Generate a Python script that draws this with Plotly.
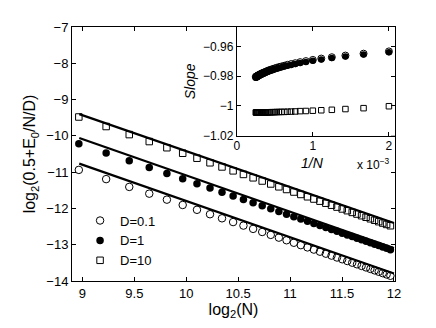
import numpy as np
import plotly.graph_objects as go

# system sizes
N = [500, 600, 700, 800, 900, 1000, 1100, 1200, 1300, 1400, 1500, 1600,
     1700, 1800, 1900, 2000, 2100, 2200, 2300, 2400, 2500, 2600, 2700, 2800,
     2900, 3000, 3100, 3200, 3300, 3400, 3500, 3600, 3700, 3800, 3900, 4000]

# log2(0.5 + E0/N/D)
y_d01 = [-10.938, -11.192, -11.407, -11.593, -11.758, -11.905, -12.038, -12.160,
         -12.272, -12.376, -12.473, -12.564, -12.649, -12.729, -12.805, -12.877,
         -12.946, -13.012, -13.074, -13.134, -13.192, -13.247, -13.300, -13.352,
         -13.401, -13.449, -13.495, -13.540, -13.584, -13.626, -13.667, -13.707,
         -13.745, -13.783, -13.820, -13.856]
y_d1 = [-10.218, -10.472, -10.687, -10.873, -11.038, -11.185, -11.318, -11.440,
        -11.552, -11.656, -11.753, -11.844, -11.929, -12.009, -12.085, -12.157,
        -12.226, -12.292, -12.354, -12.414, -12.472, -12.527, -12.580, -12.632,
        -12.681, -12.729, -12.775, -12.820, -12.864, -12.906, -12.947, -12.987,
        -13.025, -13.063, -13.100, -13.136]
y_d10 = [-9.480, -9.743, -9.965, -10.157, -10.327, -10.479, -10.616, -10.742,
         -10.857, -10.964, -11.063, -11.156, -11.244, -11.326, -11.404, -11.478,
         -11.548, -11.615, -11.679, -11.741, -11.800, -11.856, -11.911, -11.963,
         -12.014, -12.062, -12.110, -12.155, -12.200, -12.243, -12.285, -12.325,
         -12.365, -12.403, -12.441, -12.477]

# reference lines (slope about -1)
fit_x = [8.97, 12.0]
fit_d01 = [-10.765, -13.795]
fit_d1 = [-10.06, -13.09]
fit_d10 = [-9.40, -12.40]

# local slopes for the inset
slope_d1 = [-0.9640, -0.9655, -0.9668, -0.9679, -0.9688, -0.9697, -0.9705, -0.9712,
            -0.9719, -0.9725, -0.9730, -0.9736, -0.9741, -0.9745, -0.9750, -0.9754,
            -0.9758, -0.9762, -0.9765, -0.9769, -0.9772, -0.9776, -0.9779, -0.9782,
            -0.9785, -0.9787, -0.9790, -0.9793, -0.9795, -0.9798, -0.9800, -0.9802,
            -0.9805, -0.9807, -0.9809, -0.9811]
slope_d01 = [-0.9634, -0.9649, -0.9662, -0.9673, -0.9682, -0.9691, -0.9699, -0.9706,
             -0.9713, -0.9719, -0.9724, -0.9730, -0.9735, -0.9739, -0.9744, -0.9748,
             -0.9752, -0.9756, -0.9759, -0.9763, -0.9766, -0.9770, -0.9773, -0.9776,
             -0.9779, -0.9781, -0.9784, -0.9787, -0.9789, -0.9792, -0.9794, -0.9796,
             -0.9799, -0.9801, -0.9803, -0.9805]
slope_d10 = [-1.0002, -1.0015, -1.0021, -1.0026, -1.0029, -1.0032, -1.0034, -1.0035,
             -1.0037, -1.0038, -1.0039, -1.0040, -1.0040, -1.0041, -1.0041, -1.0042,
             -1.0042, -1.0042, -1.0043, -1.0043, -1.0043, -1.0043, -1.0044, -1.0044,
             -1.0044, -1.0044, -1.0044, -1.0044, -1.0044, -1.0044, -1.0044, -1.0044,
             -1.0044, -1.0044, -1.0044, -1.0044]

logN = np.log2(N)
invN = 1.0 / np.array(N)

FONT = "Liberation Sans, Arial, Helvetica, sans-serif"
fig = go.Figure()

# fitted lines
for fy in (fit_d01, fit_d1, fit_d10):
    fig.add_trace(go.Scatter(x=fit_x, y=fy, mode='lines', showlegend=False,
                             line=dict(color='black', width=2.2)))

# main data
fig.add_trace(go.Scatter(x=logN, y=y_d01, mode='markers', name='D=0.1',
                         marker=dict(symbol='circle-open', size=7.5, color='black', line=dict(width=1))))
fig.add_trace(go.Scatter(x=logN, y=y_d1, mode='markers', name='D=1',
                         marker=dict(symbol='circle', size=7.5, color='black')))
fig.add_trace(go.Scatter(x=logN, y=y_d10, mode='markers', name='D=10',
                         marker=dict(symbol='square-open', size=6.5, color='black', line=dict(width=1))))

# inset
fig.add_trace(go.Scatter(x=invN, y=slope_d1, mode='markers', showlegend=False, xaxis='x2', yaxis='y2',
                         marker=dict(symbol='circle', size=6.5, color='black')))
fig.add_trace(go.Scatter(x=invN, y=slope_d01, mode='markers', showlegend=False, xaxis='x2', yaxis='y2',
                         marker=dict(symbol='circle-open', size=7, color='black', line=dict(width=1))))
fig.add_trace(go.Scatter(x=invN, y=slope_d10, mode='markers', showlegend=False, xaxis='x2', yaxis='y2',
                         marker=dict(symbol='square-open', size=5.5, color='black', line=dict(width=1))))

axis_common = dict(showline=True, linecolor='black', linewidth=1, mirror='ticks',
                   ticks='inside', ticklen=4, tickcolor='black', showgrid=False, zeroline=False)

# page body adds an 8px offset, so the figure is made 8px smaller
fig.update_layout(
    width=428, height=320,
    margin=dict(l=64, r=40.5, t=16, b=47),
    paper_bgcolor='white', plot_bgcolor='white',
    font=dict(family=FONT, color='black'),
    xaxis=dict(range=[8.9, 12.01], tickvals=[9, 9.5, 10, 10.5, 11, 11.5, 12],
               ticktext=['9', '9.5', '10', '10.5', '11', '11.5', '12'],
               tickfont=dict(size=13, color='black'),
               title=dict(text='log<sub>2</sub>(N)', font=dict(size=16), standoff=0),
               domain=[0, 1], **axis_common),
    yaxis=dict(range=[-14, -7], tickvals=[-14, -13, -12, -11, -10, -9, -8, -7],
               tickfont=dict(size=13, color='black'),
               title=dict(text='log<sub>2</sub>(0.5+E<sub>0</sub>/N/D)', font=dict(size=16), standoff=6),
               domain=[0, 1], **axis_common),
    xaxis2=dict(range=[0, 2.08e-3], tickvals=[0, 1e-3, 2e-3], ticktext=['0', '1', '2'],
                tickfont=dict(size=12, color='black'), ticklabelstandoff=-1,
                domain=[0.51, 1.0], anchor='y2', **axis_common),
    yaxis2=dict(range=[-1.02, -0.947], tickvals=[-1.02, -1.0, -0.98, -0.96],
                ticktext=['\u22121.02', '\u22121', '\u22120.98', '\u22120.96'],
                tickfont=dict(size=12, color='black'),
                domain=[0.572, 1.0], anchor='x2',
                title=dict(text='<i>Slope</i>', font=dict(size=14), standoff=4),
                **axis_common),
    legend=dict(x=0.025, y=0.297, xanchor='left', yanchor='top', bgcolor='rgba(0,0,0,0)',
                font=dict(size=13), tracegroupgap=0, itemwidth=30),
    annotations=[
        dict(text='<i>1/N</i>', xref='paper', yref='paper', x=0.745, y=0.466,
             xanchor='center', yanchor='middle', showarrow=False, font=dict(size=14)),
        dict(text='x 10<sup>\u22123</sup>', xref='paper', yref='paper', x=0.99, y=0.462,
             xanchor='right', yanchor='middle', showarrow=False, font=dict(size=12)),
    ],
)

fig.write_html("out.html")
